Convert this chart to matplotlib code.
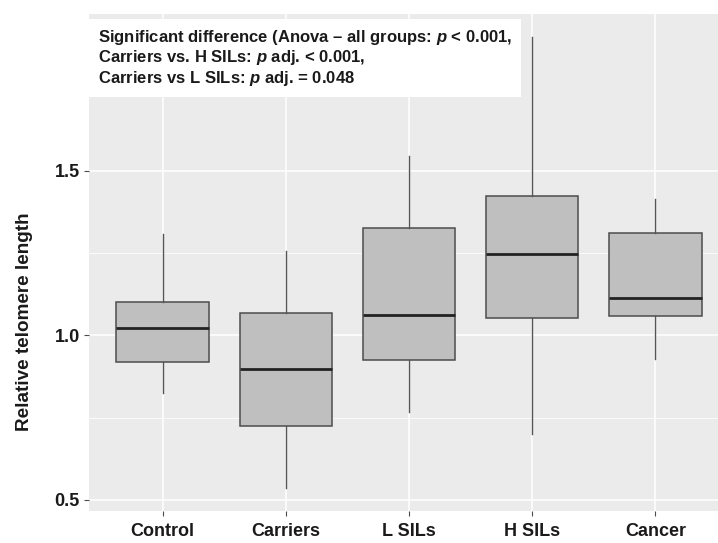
import matplotlib

matplotlib.use("Agg")
import matplotlib.pyplot as plt

plt.rcParams["font.family"] = ["Liberation Sans", "DejaVu Sans"]
plt.rcParams["mathtext.fontset"] = "custom"
plt.rcParams["mathtext.it"] = "Liberation Sans:italic:bold"
plt.rcParams["mathtext.rm"] = "Liberation Sans:bold"

groups = ["Control", "Carriers", "L SILs", "H SILs", "Cancer"]
whis_lo = [0.825, 0.535, 0.767, 0.700, 0.928]
q1 = [0.918, 0.725, 0.924, 1.054, 1.060]
median = [1.021, 0.897, 1.063, 1.247, 1.113]
q3 = [1.100, 1.069, 1.325, 1.424, 1.310]
whis_hi = [1.308, 1.257, 1.545, 1.907, 1.414]

y_ticks = [0.5, 1.0, 1.5]
y_minor = [0.75, 1.25]

note = ("Significant difference (Anova \u2013 all groups: $\\it{p}$ < 0.001,\n"
        "Carriers vs. H SILs: $\\it{p}$ adj. < 0.001,\n"
        "Carriers vs L SILs: $\\it{p}$ adj. = 0.048")

stats = [
    {"label": g, "whislo": lo, "q1": a, "med": m, "q3": b, "whishi": hi, "fliers": []}
    for g, lo, a, m, b, hi in zip(groups, whis_lo, q1, median, q3, whis_hi)
]

fig = plt.figure(figsize=(7.18, 5.43), dpi=100)
# panel runs off the right edge, as in the cropped original
ax = fig.add_axes([0.1235, 0.0589, 0.8922, 0.9153])
ax.set_facecolor("#EBEBEB")

pos = list(range(1, len(groups) + 1))
ax.bxp(stats, positions=pos, widths=0.75, patch_artist=True, showcaps=False,
       boxprops=dict(facecolor="#BFBFBF", edgecolor="#4d4d4d", linewidth=1.1),
       whiskerprops=dict(color="#555555", linewidth=1.0),
       medianprops=dict(color="#222222", linewidth=2.0))

lo, hi = min(whis_lo), max(whis_hi)
pad = (hi - lo) * 0.05
ax.set_ylim(lo - pad, hi + pad)
ax.set_xlim(0.4, len(groups) + 0.6)

ax.set_yticks(y_ticks)
ax.set_yticklabels([f"{t:.1f}" for t in y_ticks])
ax.set_yticks(y_minor, minor=True)
ax.set_xticks(pos)
ax.set_xticklabels(groups)

ax.grid(True, which="major", color="white", linewidth=1.1)
ax.grid(True, which="minor", axis="y", color="white", linewidth=0.55)
ax.set_axisbelow(True)
for s in ax.spines.values():
    s.set_visible(False)

ax.tick_params(which="major", length=3.5, width=0.8, color="#4d4d4d",
               labelsize=13, labelcolor="#1a1a1a", pad=3)
ax.tick_params(axis="x", which="major", pad=5)
ax.tick_params(which="minor", length=0)
for lab in ax.get_xticklabels() + ax.get_yticklabels():
    lab.set_fontweight("bold")

ax.set_ylabel("Relative telomere length", fontsize=13.6, fontweight="bold",
              color="#1a1a1a")
ax.yaxis.set_label_coords(-0.087, 0.38)

ax.text(0.0145, 0.972, note, transform=ax.transAxes, ha="left", va="top",
        fontsize=12, fontweight="bold", color="#1a1a1a", linespacing=1.1,
        bbox=dict(facecolor="white", edgecolor="none", boxstyle="square,pad=0.55"))

fig.savefig("out.png", dpi=100)
